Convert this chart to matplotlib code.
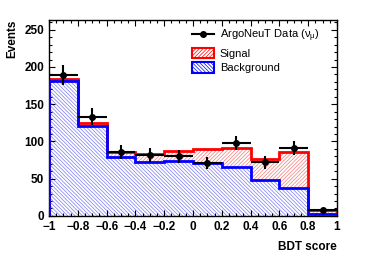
import numpy as np
import matplotlib
matplotlib.use("Agg")
import matplotlib.pyplot as plt
from matplotlib.ticker import MultipleLocator, AutoMinorLocator, FuncFormatter
from matplotlib.patches import Patch
from matplotlib.lines import Line2D

bin_edges = [-1.0, -0.8, -0.6, -0.4, -0.2, 0.0, 0.2, 0.4, 0.6, 0.8, 1.0]
background = [181, 120.5, 78.5, 72.5, 74, 71.5, 66, 48, 37, 3]
signal = [3, 4, 7.5, 10, 13.5, 18, 25.5, 28.5, 49, 5]
data = [189, 133, 86, 82, 80, 71, 98, 72, 91, 8]

plt.rcParams['font.family'] = ['Liberation Sans', 'DejaVu Sans']
plt.rcParams['hatch.linewidth'] = 0.5

fig = plt.figure(figsize=(3.74, 2.54), dpi=100)
ax = fig.add_axes([0.131, 0.150, 0.770, 0.771])

edges = np.array(bin_edges)
bkg = np.array(background, dtype=float)
sig = np.array(signal, dtype=float)
tot = bkg + sig
dat = np.array(data, dtype=float)
centers = 0.5 * (edges[:-1] + edges[1:])
halfw = 0.5 * np.diff(edges)

bhatch = '\\' * 9
rhatch = '/' * 9

ax.stairs(bkg, edges, baseline=0, fill=True, facecolor='white', edgecolor='#7a7af5',
          hatch=bhatch, linewidth=0, zorder=1)
ax.stairs(tot, edges, baseline=bkg, fill=True, facecolor='white', edgecolor='#f57a7a',
          hatch=rhatch, linewidth=0, zorder=1)
ax.stairs(tot, edges, baseline=0, color='red', linewidth=2, zorder=2)
ax.stairs(bkg, edges, baseline=0, color='blue', linewidth=2, zorder=3)

ax.errorbar(centers, dat, xerr=halfw, yerr=np.sqrt(dat), fmt='o', color='black',
            markersize=4, elinewidth=1.5, capsize=0, zorder=5)

ax.set_xlim(-1, 1)
ax.set_ylim(0, 263)
ax.xaxis.set_major_locator(MultipleLocator(0.2))
ax.xaxis.set_minor_locator(AutoMinorLocator(4))
ax.yaxis.set_major_locator(MultipleLocator(50))
ax.yaxis.set_minor_locator(AutoMinorLocator(5))

def xfmt(v, pos):
    if abs(v) < 1e-9:
        return '0'
    s = ('%g' % round(v, 1))
    return s.replace('-', '\u2212')
ax.xaxis.set_major_formatter(FuncFormatter(xfmt))

ax.tick_params(which='both', direction='in', top=True, right=True,
               labelsize=8.5, width=0.8)
ax.tick_params(which='major', length=4)
ax.tick_params(which='minor', length=2)
for lab in ax.get_xticklabels() + ax.get_yticklabels():
    lab.set_fontweight('bold')
for s in ax.spines.values():
    s.set_linewidth(1.0)

ax.set_ylabel('Events', fontsize=8.5, fontweight='bold', loc='top', labelpad=4)
ax.set_xlabel('BDT score', fontsize=8.5, fontweight='bold', loc='right', labelpad=6)

handles = [
    Line2D([0], [0], color='black', marker='o', markersize=4, linewidth=1.5),
    Patch(facecolor='white', edgecolor='red', hatch=rhatch, linewidth=1.5),
    Patch(facecolor='white', edgecolor='blue', hatch=bhatch, linewidth=1.5),
]
labels = [r'ArgoNeuT Data ($\mathregular{\nu_{\mu}}$)', 'Signal', 'Background']
leg = ax.legend(handles, labels, loc='upper left', bbox_to_anchor=(0.47, 1.0),
                frameon=False, fontsize=8, handlelength=2.0, handleheight=1.1,
                handletextpad=0.5, labelspacing=0.3, borderaxespad=0.3)

fig.savefig('out.png', dpi=100)
